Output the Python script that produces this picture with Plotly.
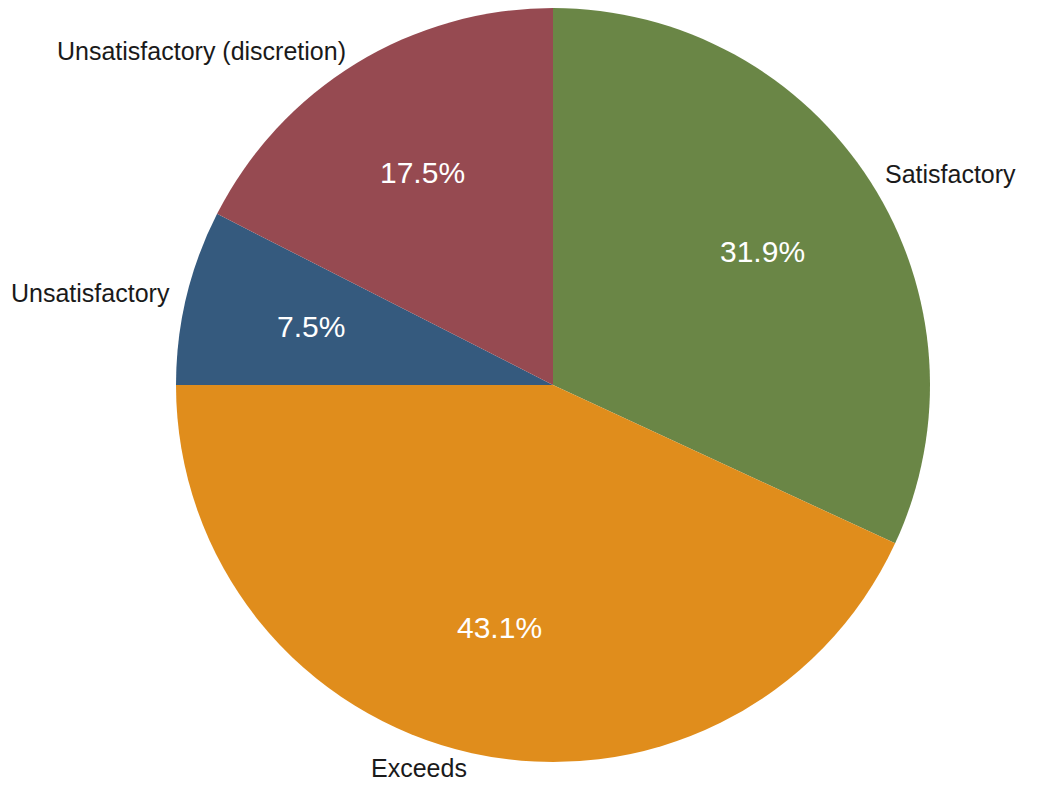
import math
import plotly.graph_objects as go

# ratings distribution, clockwise from 12 o'clock
categories = ["Satisfactory", "Exceeds", "Unsatisfactory", "Unsatisfactory (discretion)"]
shares = [31.9, 43.1, 7.5, 17.5]
colors = ["#6a8646", "#e08d1c", "#355a7e", "#964a51"]

W, H = 1041, 786
margin = dict(l=49, r=0, t=0, b=32)
plot_w = W - margin["l"] - margin["r"]
plot_h = H - margin["t"] - margin["b"]
radius = min(plot_w, plot_h) / 2
font = "Liberation Sans, Arial, sans-serif"

fig = go.Figure()
fig.add_trace(go.Pie(
    labels=categories,
    values=shares,
    sort=False,
    direction="clockwise",
    rotation=0,
    marker=dict(colors=colors, line=dict(width=0)),
    textinfo="none",
    showlegend=False,
    hoverinfo="label+percent",
))

# percentages inside and names outside, placed at each slice's mid angle
total = sum(shares)
start = 0.0
for name, val in zip(categories, shares):
    mid = (start + val / 2) / total * 2 * math.pi
    start += val
    sx, sy = math.sin(mid), math.cos(mid)

    # percent label at ~2/3 of the radius
    fig.add_annotation(
        x=0.5 + 0.66 * radius * sx / plot_w,
        y=0.5 + 0.66 * radius * sy / plot_h,
        xref="paper", yref="paper",
        text=f"{val:.1f}%",
        showarrow=False,
        xanchor="center", yanchor="middle",
        font=dict(family=font, size=30, color="white"),
    )

    # category name just outside the rim
    fig.add_annotation(
        x=0.5 + 1.04 * radius * sx / plot_w,
        y=0.5 + 1.04 * radius * sy / plot_h,
        xref="paper", yref="paper",
        text=name,
        showarrow=False,
        xanchor="left" if sx > 0 else "right",
        yanchor="middle",
        font=dict(family=font, size=25, color="#1a1a1a"),
    )

fig.update_layout(
    width=W,
    height=H,
    margin=margin,
    paper_bgcolor="white",
    plot_bgcolor="white",
)

fig.write_html("out.html")
